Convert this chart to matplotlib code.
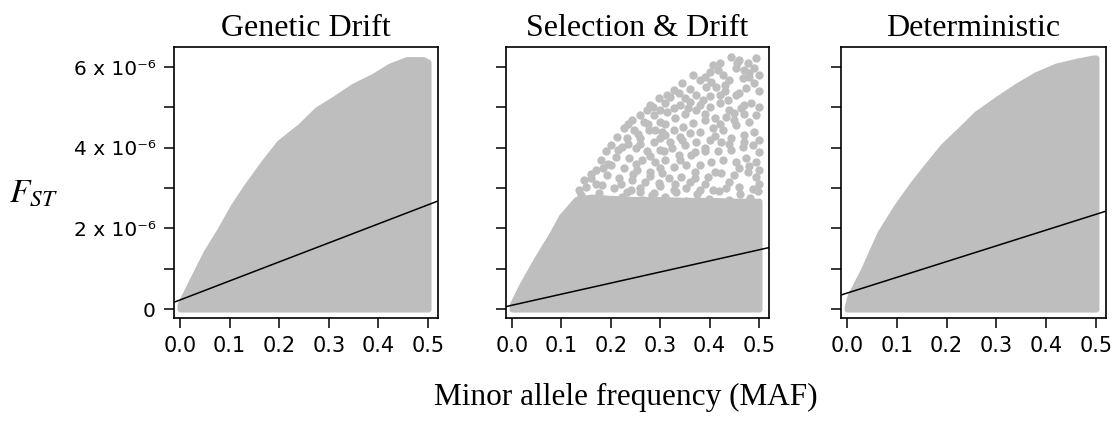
import matplotlib
matplotlib.use("Agg")
import matplotlib.pyplot as plt

plt.rcParams['mathtext.fontset'] = 'stix'
plt.rcParams['font.family'] = 'DejaVu Sans'

grey = "#BEBEBE"

titles = ["Genetic Drift", "Selection & Drift", "Deterministic"]

# upper edge of the solid part of each cloud (FST in units of 1e-6)
maf_1 = [0, 0.0255, 0.052, 0.081, 0.107, 0.134, 0.168, 0.2, 0.242, 0.276,
         0.309, 0.349, 0.39, 0.423, 0.457, 0.49, 0.5]
top_1 = [0.12, 0.75, 1.4, 1.98, 2.55, 3.05, 3.63, 4.13, 4.54, 4.95,
         5.2, 5.53, 5.78, 6.03, 6.19, 6.19, 6.13]

maf_2 = [0, 0.02, 0.05, 0.08, 0.1, 0.13, 0.16, 0.2, 0.25, 0.3, 0.35, 0.4, 0.45, 0.5]
top_2 = [0.1, 0.6, 1.25, 1.85, 2.3, 2.72, 2.78, 2.75, 2.72, 2.72, 2.7, 2.7, 2.68, 2.68]

maf_3 = [0, 0.006, 0.033, 0.066, 0.1, 0.133, 0.16, 0.193, 0.227, 0.26, 0.3,
         0.34, 0.38, 0.42, 0.461, 0.494, 0.5]
top_3 = [0.05, 0.33, 0.98, 1.89, 2.56, 3.13, 3.55, 4.05, 4.45, 4.85, 5.2,
         5.53, 5.82, 6.03, 6.15, 6.23, 6.23]

# loose points above the solid part in "Selection & Drift"
sd_maf = [0.297, 0.28, 0.273, 0.26, 0.287, 0.243, 0.267, 0.3, 0.227, 0.247, 0.277, 0.303,
          0.213, 0.233, 0.26, 0.287, 0.2, 0.223, 0.25, 0.273, 0.3, 0.19, 0.21, 0.237,
          0.263, 0.29, 0.18, 0.2, 0.227, 0.253, 0.28, 0.303, 0.17, 0.193, 0.217, 0.243,
          0.27, 0.297, 0.16, 0.183, 0.207, 0.233, 0.26, 0.287, 0.15, 0.14,
          0.443, 0.46, 0.477, 0.493, 0.49, 0.47, 0.453, 0.407, 0.417, 0.4, 0.427, 0.367,
          0.38, 0.44, 0.467, 0.48, 0.43, 0.413, 0.393, 0.403, 0.327, 0.313, 0.337, 0.35,
          0.36, 0.373, 0.387, 0.34, 0.327, 0.313, 0.357, 0.373, 0.4, 0.42, 0.437, 0.453,
          0.473, 0.49, 0.483, 0.463, 0.45, 0.433, 0.41, 0.39, 0.367, 0.347, 0.327, 0.31,
          0.34, 0.36, 0.38, 0.407, 0.427, 0.453, 0.48, 0.493, 0.49, 0.47, 0.443, 0.423,
          0.4, 0.373, 0.35, 0.323, 0.307, 0.337, 0.363, 0.39, 0.417, 0.443, 0.467, 0.487,
          0.493, 0.473, 0.453, 0.427, 0.403, 0.38, 0.353, 0.327, 0.493, 0.477, 0.45, 0.423,
          0.397, 0.37, 0.343, 0.317, 0.487, 0.46, 0.433, 0.407, 0.38, 0.353, 0.327,
          0.135, 0.158, 0.177, 0.199, 0.222, 0.241, 0.265, 0.284, 0.31, 0.331, 0.352,
          0.374, 0.398, 0.419, 0.44, 0.462, 0.481, 0.497,
          0.31, 0.33, 0.35, 0.39, 0.42, 0.44, 0.47, 0.5, 0.5, 0.5, 0.5, 0.5, 0.5, 0.5,
          0.46, 0.43, 0.36, 0.345, 0.39, 0.42, 0.455, 0.48, 0.31, 0.34, 0.37, 0.39,
          0.41, 0.44, 0.46, 0.48, 0.36, 0.33, 0.3, 0.3, 0.28, 0.26, 0.245, 0.22,
          0.195, 0.215, 0.235, 0.26, 0.28, 0.25, 0.3, 0.29, 0.255, 0.235, 0.275, 0.3,
          0.285, 0.31, 0.32, 0.38, 0.4, 0.42, 0.47, 0.45, 0.41, 0.44, 0.47, 0.39,
          0.37, 0.345, 0.32, 0.17, 0.185, 0.16, 0.145]
sd_fst = [5.23, 5.06, 4.94, 4.81, 4.81, 4.69, 4.65, 4.65, 4.48, 4.44, 4.44, 4.40,
          4.28, 4.24, 4.24, 4.15, 4.07, 4.03, 3.99, 3.91, 3.95, 3.91, 3.78, 3.74,
          3.7, 3.66, 3.7, 3.57, 3.49, 3.45, 3.41, 3.37, 3.45, 3.33, 3.24, 3.2,
          3.16, 3.12, 3.24, 3.08, 3.0, 2.91, 2.91, 2.87, 3.04, 2.83,
          6.26, 6.18, 6.1, 6.22, 5.97, 5.93, 5.97, 6.05, 5.93, 5.89, 5.81, 5.81,
          5.68, 5.68, 5.72, 5.76, 5.56, 5.52, 5.52, 5.64, 5.43, 5.31, 5.35, 5.23,
          5.14, 5.31, 5.19, 5.06, 4.98, 4.9, 4.98, 4.94, 5.02, 5.1, 5.19, 5.31,
          5.48, 5.6, 5.1, 4.98, 4.86, 4.77, 4.73, 4.69, 4.61, 4.52, 4.44, 4.32,
          4.28, 4.36, 4.4, 4.48, 4.44, 4.57, 4.65, 4.81, 4.4, 4.32, 4.24, 4.15,
          4.19, 4.15, 4.07, 3.99, 3.91, 3.82, 3.82, 3.91, 3.91, 3.95, 4.03, 4.07,
          3.66, 3.74, 3.66, 3.7, 3.66, 3.57, 3.57, 3.53, 3.28, 3.41, 3.33, 3.37,
          3.28, 3.24, 3.28, 3.24, 2.99, 3.04, 3.0, 2.95, 2.95, 3.0, 2.95,
          2.95, 2.72, 2.88, 2.66, 2.79, 2.96, 2.7, 2.83, 2.77, 2.9, 2.68,
          2.86, 2.74, 2.92, 2.7, 2.85, 2.76, 2.93,
          4.6, 4.75, 4.85, 4.85, 4.6, 4.95, 4.85, 5.0, 5.4, 5.8, 4.2, 3.9, 3.45, 3.1,
          5.35, 5.4, 5.45, 5.6, 5.75, 6.1, 6.1, 5.85, 3.7, 3.7, 3.4, 3.1,
          3.4, 3.15, 3.5, 3.55, 3.15, 3.1, 3.5, 3.05, 3.3, 3.0, 3.35, 3.1,
          3.6, 3.95, 4.1, 4.1, 3.8, 3.6, 4.25, 4.45, 4.35, 4.58, 4.6, 4.95,
          5.0, 5.1, 5.25, 5.05, 5.28, 5.3, 5.05, 4.7, 4.3, 4.1, 4.15, 4.0,
          3.9, 4.2, 4.15, 3.1, 3.5, 3.35, 3.2]

# regression lines (FST in 1e-6)
intercepts = [0.227, 0.096, 0.397]
slopes = [4.72, 2.75, 3.91]

fills = [(maf_1, top_1), (maf_2, top_2), (maf_3, top_3)]
lefts = [174, 506, 841]
widths = [264, 263, 265]

fig = plt.figure(figsize=(11.16, 4.23), dpi=100)

for i in range(3):
    ax = fig.add_axes([lefts[i] / 1116, 105 / 423, widths[i] / 1116, 271 / 423])
    mx, top = fills[i]
    ax.fill_between(mx, 0, top, facecolor=grey, edgecolor=grey, linewidth=4.2,
                    joinstyle='round')
    if i == 1:
        ax.scatter(sd_maf, sd_fst, s=36, color=grey, linewidths=0)
    ax.axline((0, intercepts[i]), slope=slopes[i], color="black", lw=1.1)

    ax.set_xlim(-0.012, 0.52)
    ax.set_ylim(-0.22, 6.5)
    ax.set_xticks([0, 0.1, 0.2, 0.3, 0.4, 0.5])
    ax.set_xticklabels(["0.0", "0.1", "0.2", "0.3", "0.4", "0.5"], fontsize=15)
    ax.set_yticks([0, 1, 2, 3, 4, 5, 6])
    if i == 0:
        ax.set_yticklabels(["0", "", "2 x 10\u207b\u2076", "", "4 x 10\u207b\u2076", "",
                            "6 x 10\u207b\u2076"], fontsize=14.5)
    else:
        ax.set_yticklabels([])
    ax.tick_params(direction="out", length=7, width=1.1, pad=6)
    for sp in ax.spines.values():
        sp.set_linewidth(1.2)
    ax.set_title(titles[i], fontsize=23, family="Liberation Serif", pad=8)

fig.text(0.03, 0.545, r"$F_{ST}$", fontsize=24, ha="center", va="center")
fig.text(0.561, 0.06, "Minor allele frequency (MAF)", fontsize=22.5,
         family="Liberation Serif", ha="center", va="center")

fig.savefig("out.png", dpi=100)
